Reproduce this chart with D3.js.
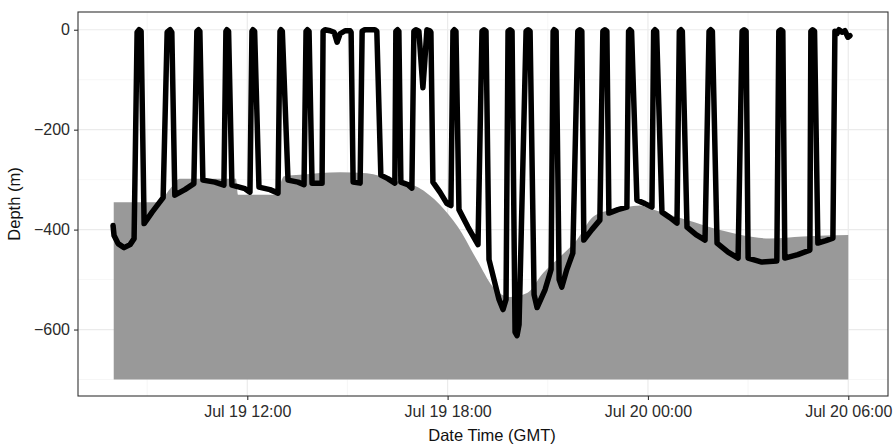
<!DOCTYPE html>
<html>
<head>
<meta charset="utf-8">
<script src="https://cdn.jsdelivr.net/npm/d3@7"></script>
<style>
body { margin: 0; background: #fff; }
svg { display: block; }
text { font-family: "Liberation Sans", Arial, sans-serif; }
</style>
</head>
<body>
<svg id="chart" width="894" height="445"></svg>
<script>
// all times are hours since Jul 19 00:00 GMT
const bathyHour  = [8.00, 9.33, 9.69, 9.98, 11.66, 11.72, 12.86, 13.10, 13.58, 14.78, 15.58, 16.36, 17.11, 17.77, 18.31, 18.88, 19.36, 19.87, 20.38, 20.86, 21.36, 21.87, 22.35, 22.86, 23.37, 23.76, 24.15, 25.17, 26.16, 27.15, 27.65, 28.64, 30.00];
const bathyDepth = [-345, -345, -318, -298, -298, -330, -330, -293, -290, -285, -287, -301, -315, -350, -395, -461, -515, -535, -527, -487, -455, -421, -375, -361, -355, -352, -360, -381, -401, -415, -418, -414, -411];
const seafloorBase = -700;

const diveHour = [
  7.98, 8.01, 8.13, 8.31, 8.49, 8.61, 8.70, 8.76, 8.82,
  8.91, 9.15, 9.48, 9.60, 9.69, 9.74,
  9.83, 10.13, 10.40, 10.49, 10.54, 10.58,
  10.67, 11.03, 11.30, 11.36, 11.39, 11.44,
  11.54, 11.93, 12.08, 12.14, 12.17, 12.22,
  12.35, 12.68, 12.92, 12.98, 13.01, 13.05,
  13.22, 13.52, 13.70, 13.76, 13.80, 13.85,
  13.94, 14.24, 14.27, 14.33, 14.48, 14.60, 14.69, 14.78, 14.93, 15.08, 15.11,
  15.17, 15.38, 15.44, 15.52, 15.82, 15.88,
  16.00, 16.21, 16.42, 16.45, 16.50, 16.54,
  16.60, 16.81, 16.93, 16.99, 17.05, 17.14, 17.20, 17.26, 17.32, 17.38, 17.47, 17.50,
  17.56, 17.77, 17.98, 18.10, 18.16, 18.20, 18.25,
  18.34, 18.61, 18.91, 19.03, 19.09, 19.15,
  19.24, 19.54, 19.66, 19.75, 19.81, 19.87, 19.93,
  20.02, 20.08, 20.14, 20.35, 20.41, 20.47,
  20.59, 20.68, 20.92, 21.10, 21.16, 21.19, 21.25,
  21.34, 21.42, 21.57, 21.75, 21.90, 21.96, 22.02,
  22.08, 22.32, 22.56, 22.65, 22.71, 22.77,
  22.83, 23.10, 23.37, 23.42, 23.46, 23.51,
  23.67, 23.91, 24.12, 24.17, 24.21, 24.26,
  24.42, 24.66, 24.87, 24.94, 24.99, 25.03,
  25.17, 25.44, 25.71, 25.83, 25.88, 25.93,
  26.07, 26.40, 26.70, 26.82, 26.88, 26.94,
  27.00, 27.41, 27.86, 27.92, 27.98, 28.04,
  28.10, 28.49, 28.85, 28.88, 28.93, 28.99,
  29.09, 29.33, 29.54, 29.60, 29.66, 29.72, 29.81, 29.90, 29.99, 30.05
];
const diveDepth = [
  -392, -412, -428, -436, -430, -418, -5, 0, -3,
  -388, -365, -336, -5, 0, -5,
  -331, -320, -308, -3, 0, -3,
  -301, -305, -311, -3, 0, -3,
  -311, -318, -325, -3, 0, -3,
  -315, -320, -327, -3, 0, -3,
  -301, -305, -310, -3, 0, -3,
  -307, -307, -3, 0, -2, -5, -25, -8, -2, -2, -5,
  -305, -307, -3, 0, 0, -3,
  -291, -298, -307, -3, 0, -3,
  -305, -310, -317, -3, 0, -3, -60, -116, -60, 0, -2, -5,
  -305, -325, -348, -352, -3, 0, -3,
  -360, -395, -430, -3, 0, -3,
  -460, -540, -560, -540, -3, 0, -3,
  -605, -612, -590, -3, 0, -3,
  -530, -556, -520, -480, -3, 0, -3,
  -500, -515, -480, -447, -3, 0, -3,
  -421, -400, -381, -3, 0, -3,
  -367, -360, -355, -3, 0, -3,
  -341, -348, -355, -3, 0, -3,
  -365, -376, -387, -3, 0, -3,
  -395, -410, -421, -3, 0, -3,
  -427, -445, -457, -3, 0, -3,
  -457, -465, -463, -3, 0, -3,
  -457, -450, -441, -3, 0, -3,
  -427, -422, -417, -3, -8, 0, -5, -2, -15, -12
];

const xTickHours = [12, 18, 24, 30];
const xMinorHours = [9, 15, 21, 27];
const yTicks = [0, -200, -400, -600];
const yMinor = [-100, -300, -500, -700];

const base = Date.UTC(2013, 6, 19);
const toDate = h => new Date(base + h * 3600e3);

const svg = d3.select("#chart");
const pLeft = 78, pRight = 888, pTop = 12, pBottom = 396;

const x = d3.scaleUtc()
  .domain([toDate(6.93), toDate(31.19)])
  .range([pLeft, pRight]);
const y = d3.scaleLinear()
  .domain([-733, 35.5])
  .range([pBottom, pTop]);

// grid
const grid = svg.append("g");
grid.selectAll(".xminor").data(xMinorHours).enter().append("line")
  .attr("x1", d => x(toDate(d))).attr("x2", d => x(toDate(d)))
  .attr("y1", pTop).attr("y2", pBottom)
  .attr("stroke", "#f2f2f2").attr("stroke-width", 0.7);
grid.selectAll(".yminor").data(yMinor).enter().append("line")
  .attr("x1", pLeft).attr("x2", pRight)
  .attr("y1", d => y(d)).attr("y2", d => y(d))
  .attr("stroke", "#f2f2f2").attr("stroke-width", 0.7);
grid.selectAll(".xmajor").data(xTickHours).enter().append("line")
  .attr("x1", d => x(toDate(d))).attr("x2", d => x(toDate(d)))
  .attr("y1", pTop).attr("y2", pBottom)
  .attr("stroke", "#ebebeb").attr("stroke-width", 1.2);
grid.selectAll(".ymajor").data(yTicks).enter().append("line")
  .attr("x1", pLeft).attr("x2", pRight)
  .attr("y1", d => y(d)).attr("y2", d => y(d))
  .attr("stroke", "#ebebeb").attr("stroke-width", 1.2);

// seafloor
const bathy = bathyHour.map((h, i) => ({t: toDate(h), d: bathyDepth[i]}));
svg.append("path")
  .datum(bathy)
  .attr("fill", "#999999")
  .attr("d", d3.area()
    .curve(d3.curveMonotoneX)
    .x(d => x(d.t))
    .y0(y(seafloorBase))
    .y1(d => y(d.d)));

// dive track
const dive = diveHour.map((h, i) => ({t: toDate(h), d: diveDepth[i]}));
svg.append("path")
  .datum(dive)
  .attr("fill", "none")
  .attr("stroke", "#000")
  .attr("stroke-width", 5.5)
  .attr("stroke-linejoin", "round")
  .attr("stroke-linecap", "round")
  .attr("d", d3.line().x(d => x(d.t)).y(d => y(d.d)));

// border
svg.append("rect")
  .attr("x", pLeft).attr("y", pTop)
  .attr("width", pRight - pLeft).attr("height", pBottom - pTop)
  .attr("fill", "none").attr("stroke", "#333").attr("stroke-width", 1.1);

// axes
const xAxis = svg.append("g")
  .attr("transform", "translate(0," + pBottom + ")")
  .call(d3.axisBottom(x)
    .tickValues(xTickHours.map(toDate))
    .tickFormat(d3.utcFormat("%b %d %H:%M"))
    .tickSize(4).tickPadding(6));
const yAxis = svg.append("g")
  .attr("transform", "translate(" + pLeft + ",0)")
  .call(d3.axisLeft(y).tickValues(yTicks).tickSize(4).tickPadding(4));

[xAxis, yAxis].forEach(a => {
  a.select(".domain").remove();
  a.selectAll(".tick line").attr("stroke", "#333").attr("stroke-width", 1.1);
  a.selectAll(".tick text")
    .attr("fill", "#2b2b2b")
    .style("font-size", "16px")
    .style("font-family", "'Liberation Sans', Arial, sans-serif");
});

svg.append("text")
  .text("Date Time (GMT)")
  .attr("x", 492)
  .attr("y", 441)
  .attr("text-anchor", "middle")
  .attr("fill", "#111")
  .style("font-size", "16.5px");

svg.append("text")
  .text("Depth (m)")
  .attr("transform", "translate(20," + ((pTop + pBottom) / 2) + ") rotate(-90)")
  .attr("text-anchor", "middle")
  .attr("fill", "#111")
  .style("font-size", "16.5px");
</script>
</body>
</html>
